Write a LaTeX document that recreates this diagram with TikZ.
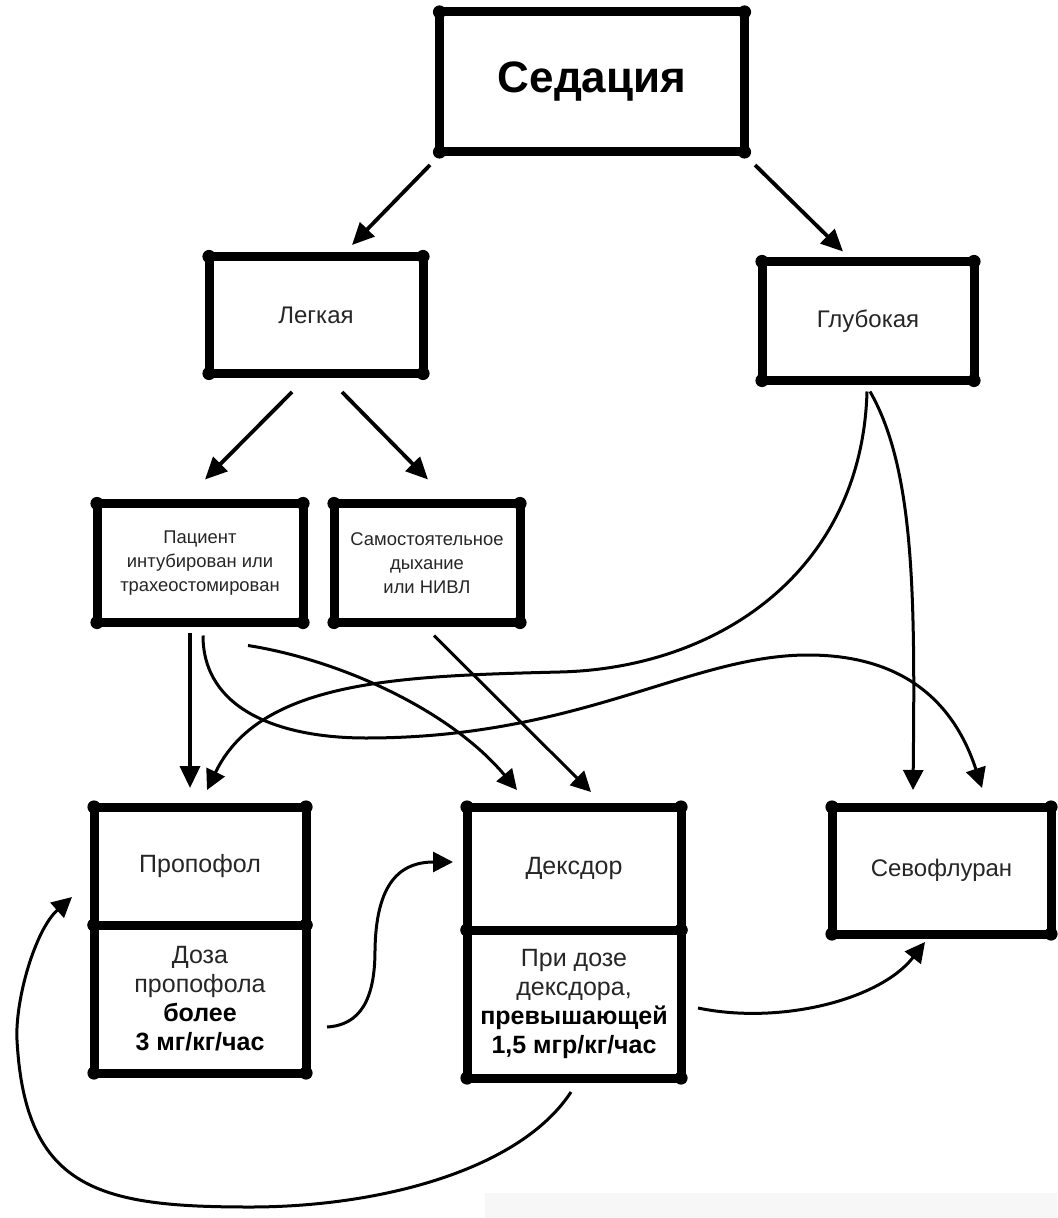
\documentclass[tikz,border=0pt]{standalone}
\usepackage{fontspec}
\setmainfont{Liberation Sans}
\usetikzlibrary{arrows.meta}
\begin{document}
\begin{tikzpicture}[x=0.5pt,y=-0.5pt,
  box/.style={draw, fill=white, line width=4.5pt, inner sep=0pt, outer sep=0pt,
    align=center, text=black!85, font=\fontsize{12}{14.5}\selectfont},
  small/.style={font=\fontsize{9.2}{12}\selectfont},
  lower/.style={font=\fontsize{12.5}{14.5}\selectfont},
  con/.style={line width=1.5pt, -{Triangle[length=10pt,width=10pt]}},
  scon/.style={line width=1.9pt, -{Triangle[length=11pt,width=10pt]}}
]
\fill[black!3] (485,1193) rectangle (1057,1218);
\useasboundingbox (0,0) rectangle (1057,1218);

\node[box, minimum width=152.5pt, minimum height=70pt, text=black,
  font=\bfseries\fontsize{22}{26}\selectfont] (sed) at (592,82) {Седация};
\node[box, minimum width=107pt, minimum height=58.5pt] (leg) at (316,315) {Легкая};
\node[box, minimum width=106pt, minimum height=59.5pt] (glu) at (868,321) {Глубокая};
\node[box, small, minimum width=103pt, minimum height=59.5pt] (pac) at (200,563)
  {Пациент\\интубирован или\\трахеостомирован};
\node[box, small, minimum width=93pt, minimum height=59.5pt] (sam) at (427,563)
  {Самостоятельное\\дыхание\\или НИВЛ};
\node[box, lower, minimum width=106pt, minimum height=59pt] (protop) at (200,866) {Пропофол};
\node[box, lower, minimum width=106pt, minimum height=74pt] (prolow) at (200,999)
  {Доза\\пропофола\\{\bfseries\color{black}более}\\{\bfseries\color{black}3 мг/кг/час}};
\node[box, lower, minimum width=107pt, minimum height=61.5pt] (dextop) at (574,868.5) {Дексдор};
\node[box, lower, minimum width=107pt, minimum height=74pt] (dexlow) at (574,1004)
  {При дозе\\дексдора,\\{\bfseries\color{black}превышающей}\\{\bfseries\color{black}1,5 мгр/кг/час}};
\node[box, minimum width=109.5pt, minimum height=63.5pt] (sev) at (941.5,870.5) {Севофлуран};

\foreach \n in {sed,leg,glu,pac,sam,protop,prolow,dextop,dexlow,sev}{
  \foreach \c in {north west,north east,south west,south east}{
    \fill (\n.\c) circle (3.3pt);
  }
}

% straight arrows
\draw[scon] ([shift={(-162,13)}]sed.south) -- ([shift={(36,-11.5)}]leg.north);
\draw[scon] ([shift={(163,13)}]sed.south) -- ([shift={(-25,-10)}]glu.north);
\draw[scon] ([shift={(-24,18.5)}]leg.south) -- ([shift={(5,-24)}]pac.north);
\draw[scon] ([shift={(26,18.5)}]leg.south) -- ([shift={(1,-24)}]sam.north);
\draw[scon] ([shift={(-10,10)}]pac.south) -- ([shift={(-10,-19)}]protop.north);
\draw[con] ([shift={(7,13)}]sam.south) -- ([shift={(17,-15)}]dextop.north);

% curved arrows
\draw[con] ([shift={(3,13)}]pac.south) .. controls (203,710) and (280,738) .. (366,738)
  .. controls (580,738) and (690,655) .. (808,655)
  .. controls (890,655) and (950,690) .. ([shift={(40.5,-19)}]sev.north);
\draw[con] ([shift={(48,23)}]pac.south) .. controls (340,660) and (450,710) .. ([shift={(-57,-17)}]dextop.north);
\draw[con] ([shift={(-1,11)}]glu.south) .. controls (862,570) and (720,668) .. (560,672)
  .. controls (400,676) and (260,680) .. ([shift={(7,-17)}]protop.north);
\draw[con] ([shift={(2,11)}]glu.south) .. controls (915,470) and (915,600) .. ([shift={(-28.5,-17)}]sev.north);
\draw[con] ([shift={(21,28)}]prolow.east) .. controls (360,1025) and (375,1000) .. (375,950)
  .. controls (376,890) and (395,862) .. ([shift={(-14,-6.5)}]dextop.west);
\draw[con] ([shift={(17,4)}]dexlow.east) .. controls (780,1025) and (880,1000) .. ([shift={(-16.5,8)}]sev.south);
\draw[con] ([shift={(-3,14)}]dexlow.south) .. controls (520,1170) and (380,1207) .. (250,1207)
  .. controls (100,1207) and (25,1190) .. (17,1040)
  .. controls (15,1000) and (35,930) .. ([shift={(-22,31)}]protop.west);
\end{tikzpicture}
\end{document}
